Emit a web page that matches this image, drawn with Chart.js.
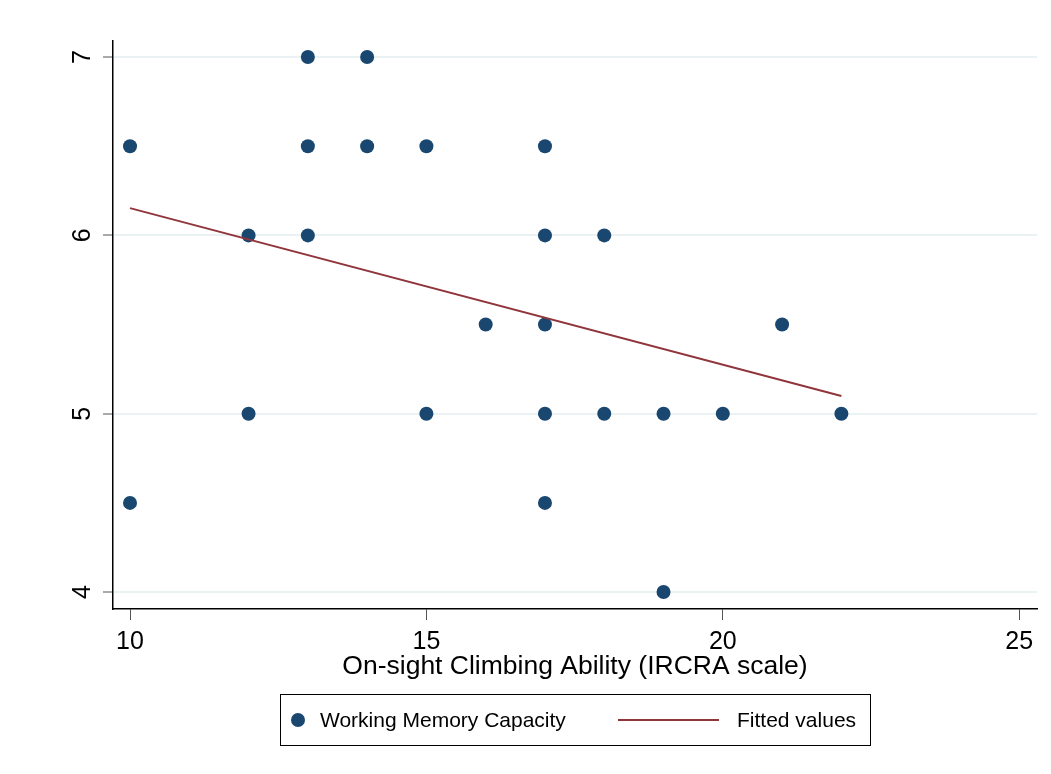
<!DOCTYPE html>
<html>
<head>
<meta charset="utf-8">
<script src="https://cdn.jsdelivr.net/npm/chart.js@4/dist/chart.umd.min.js"></script>
<style>
html,body{margin:0;padding:0;background:#fff;}
#wrap{width:1051px;height:774px;}
</style>
</head>
<body>
<div id="wrap"><canvas id="c" width="1051" height="774"></canvas></div>
<script>
const climbX = [10,10,12,12,13,13,13,14,14,15,15,16,17,17,17,17,17,18,18,19,19,20,21,22];
const memoryY = [6.5,4.5,6,5,7,6.5,6,7,6.5,6.5,5,5.5,6.5,6,5.5,5,4.5,6,5,5,4,5,5.5,5];
const fitX = [10,22];
const fitY = [6.153,5.099];
const xTicks = [10,15,20,25];
const yTicks = [4,5,6,7];
const seriesNames = ['Working Memory Capacity','Fitted values'];
const xTitle = 'On-sight Climbing Ability (IRCRA scale)';

const navy = '#1a476f';
const maroon = '#90353b';
const FONT = 'Liberation Sans, Arial, Helvetica, sans-serif';

const yLabelPlugin = {
  id: 'yLabels',
  afterDraw(chart) {
    const ctx = chart.ctx;
    const ys = chart.scales.y;
    ctx.save();
    ctx.fillStyle = '#000';
    ctx.font = '25px ' + FONT;
    ctx.textAlign = 'center';
    ctx.textBaseline = 'middle';
    yTicks.forEach(v => {
      ctx.save();
      ctx.translate(83, ys.getPixelForValue(v));
      ctx.rotate(-Math.PI/2);
      ctx.fillText(String(v), 0, 0);
      ctx.restore();
    });
    ctx.restore();
  }
};

const legendPlugin = {
  id: 'boxLegend',
  afterDraw(chart) {
    const ctx = chart.ctx;
    ctx.save();
    ctx.strokeStyle = '#000';
    ctx.lineWidth = 1;
    ctx.strokeRect(280.5, 694.5, 590, 51);
    const cy = 720;
    ctx.fillStyle = navy;
    ctx.beginPath();
    ctx.arc(298, cy, 7, 0, Math.PI*2);
    ctx.fill();
    ctx.fillStyle = '#000';
    ctx.font = '21px ' + FONT;
    ctx.textAlign = 'left';
    ctx.textBaseline = 'middle';
    ctx.fillText(seriesNames[0], 320, cy + 1);
    ctx.strokeStyle = maroon;
    ctx.lineWidth = 2;
    ctx.beginPath();
    ctx.moveTo(618, cy);
    ctx.lineTo(719, cy);
    ctx.stroke();
    ctx.fillText(seriesNames[1], 737, cy + 1);
    ctx.restore();
  }
};

new Chart(document.getElementById('c'), {
  type: 'scatter',
  data: {
    datasets: [
      {
        label: seriesNames[0],
        data: climbX.map((x,i)=>({x:x, y:memoryY[i]})),
        backgroundColor: navy,
        borderColor: navy,
        pointRadius: 7,
        pointBorderWidth: 0,
        order: 2
      },
      {
        label: seriesNames[1],
        data: fitX.map((x,i)=>({x:x, y:fitY[i]})),
        showLine: true,
        borderColor: maroon,
        borderWidth: 2,
        pointRadius: 0,
        fill: false,
        order: 1
      }
    ]
  },
  options: {
    responsive: false,
    animation: false,
    devicePixelRatio: 1,
    layout: { padding: { left: 0, right: 14, top: 41, bottom: 0 } },
    plugins: { legend: { display: false }, tooltip: { enabled: false } },
    scales: {
      x: {
        type: 'linear',
        min: 9.713, max: 25.30,
        afterBuildTicks(s) { s.ticks = xTicks.map(v=>({value:v})); },
        afterFit(s) { s.height = 165; },
        grid: { drawOnChartArea: false, drawTicks: true, tickLength: 11, tickColor: '#555', tickWidth: 1 },
        border: { display: true, color: '#000', width: 1.5 },
        ticks: { color: '#000', font: { size: 25, family: FONT }, padding: 7, maxRotation: 0, minRotation: 0 },
        title: { display: true, text: xTitle, color: '#000', font: { size: 26.5, family: FONT }, padding: { top: 0, bottom: 91 } }
      },
      y: {
        type: 'linear',
        min: 3.905, max: 7.09,
        afterBuildTicks(s) { s.ticks = yTicks.map(v=>({value:v})); },
        afterFit(s) { s.width = 113; },
        grid: { drawOnChartArea: true, color: '#eaf2f3', lineWidth: 2, drawTicks: true, tickLength: 10, tickColor: '#555', tickWidth: 1 },
        border: { display: true, color: '#000', width: 1.5 },
        ticks: { display: false }
      }
    }
  },
  plugins: [yLabelPlugin, legendPlugin]
});
</script>
</body>
</html>
